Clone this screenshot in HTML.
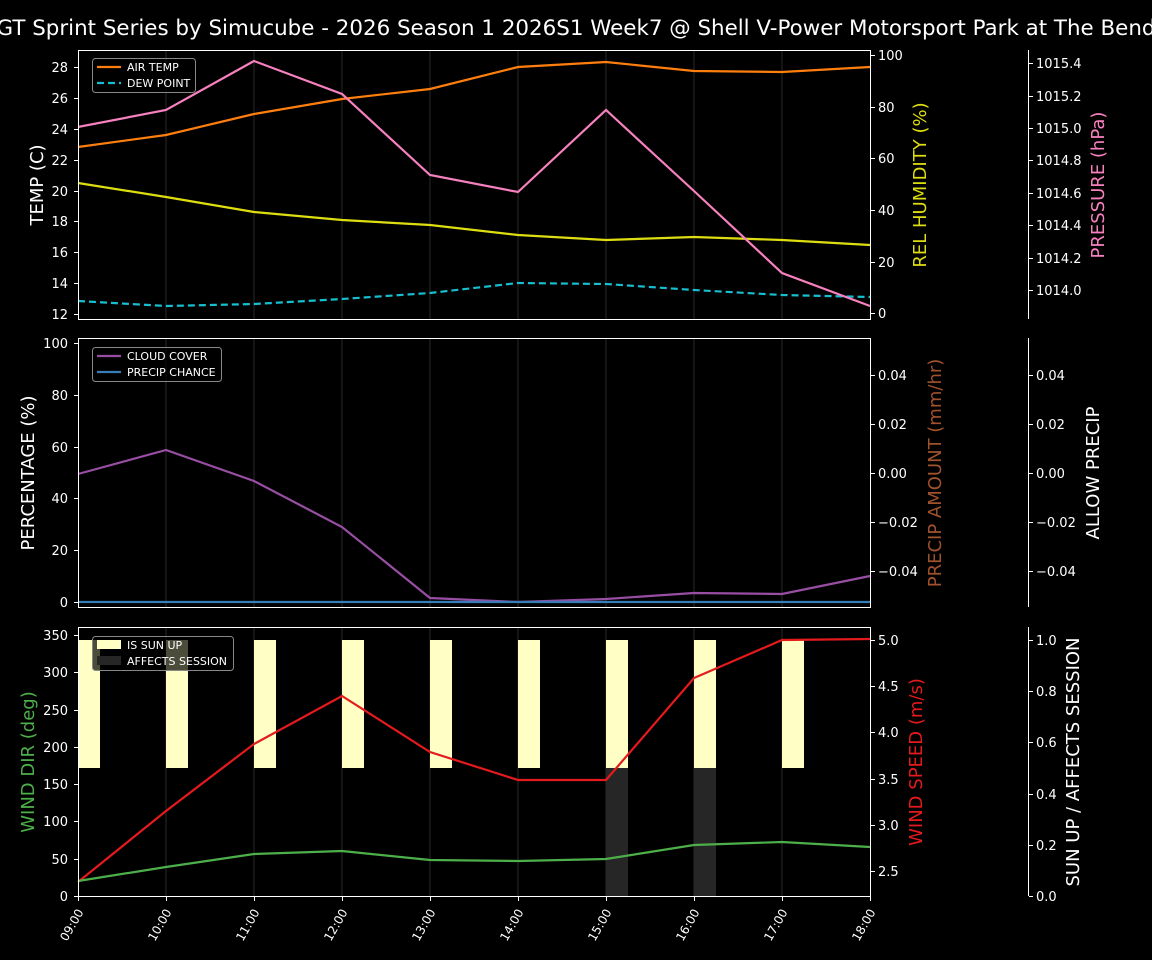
<!DOCTYPE html>
<html><head><meta charset="utf-8"><style>body{margin:0;background:#000}svg{display:block}text{font-family:"DejaVu Sans","Liberation Sans",sans-serif}</style></head><body>
<svg width="1152" height="960" xmlns="http://www.w3.org/2000/svg">
<rect width="1152" height="960" fill="#000"/>
<text x="576" y="35" fill="#fff" font-size="21.4" text-anchor="middle">GT Sprint Series by Simucube - 2026 Season 1 2026S1 Week7 @ Shell V-Power Motorsport Park at The Bend</text>
<g stroke="#1c1c1c" stroke-width="1.5">
<path d="M166 50V319M254 50V319M342 50V319M430 50V319M518 50V319M606 50V319M694 50V319M782 50V319"/>
<path d="M166 338V607M254 338V607M342 338V607M430 338V607M518 338V607M606 338V607M694 338V607M782 338V607"/>
<path d="M166 627V896M254 627V896M342 627V896M430 627V896M518 627V896M606 627V896M694 627V896M782 627V896"/>
</g>
<g fill="#ffffc5">
<rect x="78" y="640" width="22" height="128"/><rect x="166" y="640" width="22" height="128"/><rect x="254" y="640" width="22" height="128"/><rect x="342" y="640" width="22" height="128"/><rect x="430" y="640" width="22" height="128"/><rect x="518" y="640" width="22" height="128"/><rect x="606" y="640" width="22" height="128"/><rect x="694" y="640" width="22" height="128"/><rect x="782" y="640" width="22" height="128"/>
</g>
<g fill="#262626"><rect x="606" y="768" width="22" height="128"/><rect x="694" y="768" width="22" height="128"/></g>
<g fill="none" stroke-width="2.2">
<polyline stroke="#ff7f0e" points="78,147 166,135 254,114 342,99 430,89 518,67 606,62 694,71 782,72 870,67"/>
<polyline stroke="#17becf" stroke-dasharray="7,4" points="78,301 166,306 254,304 342,299 430,293 518,283 606,284 694,290 782,295 870,297"/>
<polyline stroke="#dddd11" points="78,183 166,197 254,212 342,220 430,225 518,235 606,240 694,237 782,240 870,245"/>
<polyline stroke="#f781bf" points="78,127 166,110 254,61 342,94 430,175 518,192 606,110 694,191 782,273 870,306"/>
<polyline stroke="#984ea3" points="78,474 166,450 254,481 342,527 430,598 518,602 606,599 694,593 782,594 870,576"/>
<polyline stroke="#377eb8" points="78,602 870,602"/>
<polyline stroke="#e41a1c" points="78,882 166,811 254,744 342,696 430,752 518,780 606,780 694,678 782,640 870,639"/>
<polyline stroke="#4daf4a" points="78,881 166,867 254,854 342,851 430,860 518,861 606,859 694,845 782,842 870,847"/>
</g>
<g fill="none" stroke="#fff" stroke-width="1">
<rect x="78.5" y="50.5" width="792" height="269"/>
<rect x="78.5" y="338.5" width="792" height="269"/>
<rect x="78.5" y="627.5" width="792" height="269"/>
<path d="M1028.5 50V319M1028.5 338V607M1028.5 627V896"/>
<path d="M74 314.5H78M74 283.5H78M74 252.5H78M74 221.5H78M74 191.5H78M74 160.5H78M74 129.5H78M74 98.5H78M74 67.5H78"/>
<path d="M74 602.5H78M74 550.5H78M74 498.5H78M74 447.5H78M74 395.5H78M74 343.5H78"/>
<path d="M74 896.5H78M74 859.5H78M74 821.5H78M74 784.5H78M74 747.5H78M74 710.5H78M74 672.5H78M74 635.5H78"/>
<path d="M871 313.5H875M871 262.5H875M871 210.5H875M871 158.5H875M871 107.5H875M871 55.5H875"/>
<path d="M1029 290.5H1033M1029 258.5H1033M1029 225.5H1033M1029 193.5H1033M1029 160.5H1033M1029 128.5H1033M1029 96.5H1033M1029 63.5H1033"/>
<path d="M871 375.5H875M871 424.5H875M871 473.5H875M871 522.5H875M871 571.5H875"/>
<path d="M1029 375.5H1033M1029 424.5H1033M1029 473.5H1033M1029 522.5H1033M1029 571.5H1033"/>
<path d="M871 871.5H875M871 825.5H875M871 779.5H875M871 732.5H875M871 686.5H875M871 640.5H875"/>
<path d="M1029 896.5H1033M1029 845.5H1033M1029 794.5H1033M1029 742.5H1033M1029 691.5H1033M1029 640.5H1033"/>
<path d="M78.5 897V901M166.5 897V901M254.5 897V901M342.5 897V901M430.5 897V901M518.5 897V901M606.5 897V901M694.5 897V901M782.5 897V901M870.5 897V901"/>
</g>
<g fill="#fff" font-size="13">
<g text-anchor="end">
<text x="68" y="319">12</text><text x="68" y="288">14</text><text x="68" y="257">16</text><text x="68" y="226">18</text><text x="68" y="196">20</text><text x="68" y="165">22</text><text x="68" y="134">24</text><text x="68" y="103">26</text><text x="68" y="72">28</text>
<text x="68" y="607">0</text><text x="68" y="555">20</text><text x="68" y="503">40</text><text x="68" y="452">60</text><text x="68" y="400">80</text><text x="68" y="348">100</text>
<text x="68" y="901">0</text><text x="68" y="864">50</text><text x="68" y="826">100</text><text x="68" y="789">150</text><text x="68" y="752">200</text><text x="68" y="715">250</text><text x="68" y="677">300</text><text x="68" y="640">350</text>
</g>
<g text-anchor="start">
<text x="878" y="318">0</text><text x="878" y="267">20</text><text x="878" y="215">40</text><text x="878" y="163">60</text><text x="878" y="112">80</text><text x="878" y="60">100</text>
<text x="1036" y="295">1014.0</text><text x="1036" y="263">1014.2</text><text x="1036" y="230">1014.4</text><text x="1036" y="198">1014.6</text><text x="1036" y="165">1014.8</text><text x="1036" y="133">1015.0</text><text x="1036" y="101">1015.2</text><text x="1036" y="68">1015.4</text>
<text x="878" y="380">0.04</text><text x="878" y="429">0.02</text><text x="878" y="478">0.00</text><text x="878" y="527">−0.02</text><text x="878" y="576">−0.04</text>
<text x="1036" y="380">0.04</text><text x="1036" y="429">0.02</text><text x="1036" y="478">0.00</text><text x="1036" y="527">−0.02</text><text x="1036" y="576">−0.04</text>
<text x="878" y="876">2.5</text><text x="878" y="830">3.0</text><text x="878" y="784">3.5</text><text x="878" y="737">4.0</text><text x="878" y="691">4.5</text><text x="878" y="645">5.0</text>
<text x="1036" y="901">0.0</text><text x="1036" y="850">0.2</text><text x="1036" y="799">0.4</text><text x="1036" y="747">0.6</text><text x="1036" y="696">0.8</text><text x="1036" y="645">1.0</text>
</g>
</g>
<g font-size="12" fill="#fff" text-anchor="end">
<text transform="translate(84,912) rotate(-60)">09:00</text><text transform="translate(172,912) rotate(-60)">10:00</text><text transform="translate(260,912) rotate(-60)">11:00</text><text transform="translate(348,912) rotate(-60)">12:00</text><text transform="translate(436,912) rotate(-60)">13:00</text><text transform="translate(524,912) rotate(-60)">14:00</text><text transform="translate(612,912) rotate(-60)">15:00</text><text transform="translate(700,912) rotate(-60)">16:00</text><text transform="translate(788,912) rotate(-60)">17:00</text><text transform="translate(876,912) rotate(-60)">18:00</text>
</g>
<g font-size="18" text-anchor="middle">
<text transform="translate(43,185) rotate(-90)" fill="#fff">TEMP (C)</text>
<text transform="translate(926,185) rotate(-90)" fill="#dddd11">REL HUMIDITY (%)</text>
<text transform="translate(1104,185) rotate(-90)" fill="#f781bf">PRESSURE (hPa)</text>
<text transform="translate(34,473) rotate(-90)" fill="#fff">PERCENTAGE (%)</text>
<text transform="translate(941,473) rotate(-90)" fill="#a0522d">PRECIP AMOUNT (mm/hr)</text>
<text transform="translate(1099,473) rotate(-90)" fill="#fff">ALLOW PRECIP</text>
<text transform="translate(34,762) rotate(-90)" fill="#4daf4a">WIND DIR (deg)</text>
<text transform="translate(922,762) rotate(-90)" fill="#e41a1c">WIND SPEED (m/s)</text>
<text transform="translate(1079,762) rotate(-90)" fill="#fff">SUN UP / AFFECTS SESSION</text>
</g>
<g font-size="11" fill="#fff">
<rect x="92.5" y="58.5" width="103" height="34" rx="3" fill="#000" fill-opacity="0.7" stroke="#888"/>
<line x1="97" y1="67" x2="121" y2="67" stroke="#ff7f0e" stroke-width="2.2"/><text x="127" y="71">AIR TEMP</text>
<line x1="97" y1="83" x2="121" y2="83" stroke="#17becf" stroke-width="2.2" stroke-dasharray="7,4"/><text x="127" y="87">DEW POINT</text>
<rect x="92.5" y="347.5" width="129" height="34" rx="3" fill="#000" fill-opacity="0.7" stroke="#888"/>
<line x1="97" y1="356" x2="121" y2="356" stroke="#984ea3" stroke-width="2.2"/><text x="127" y="360">CLOUD COVER</text>
<line x1="97" y1="372" x2="121" y2="372" stroke="#377eb8" stroke-width="2.2"/><text x="127" y="376">PRECIP CHANCE</text>
<rect x="92.5" y="636.5" width="141" height="34" rx="3" fill="#000" fill-opacity="0.7" stroke="#888"/>
<rect x="97" y="640" width="24" height="9" fill="#ffffc5"/><text x="127" y="649">IS SUN UP</text>
<rect x="97" y="656" width="24" height="9" fill="#262626"/><text x="127" y="665">AFFECTS SESSION</text>
</g>
</svg>
</body></html>
